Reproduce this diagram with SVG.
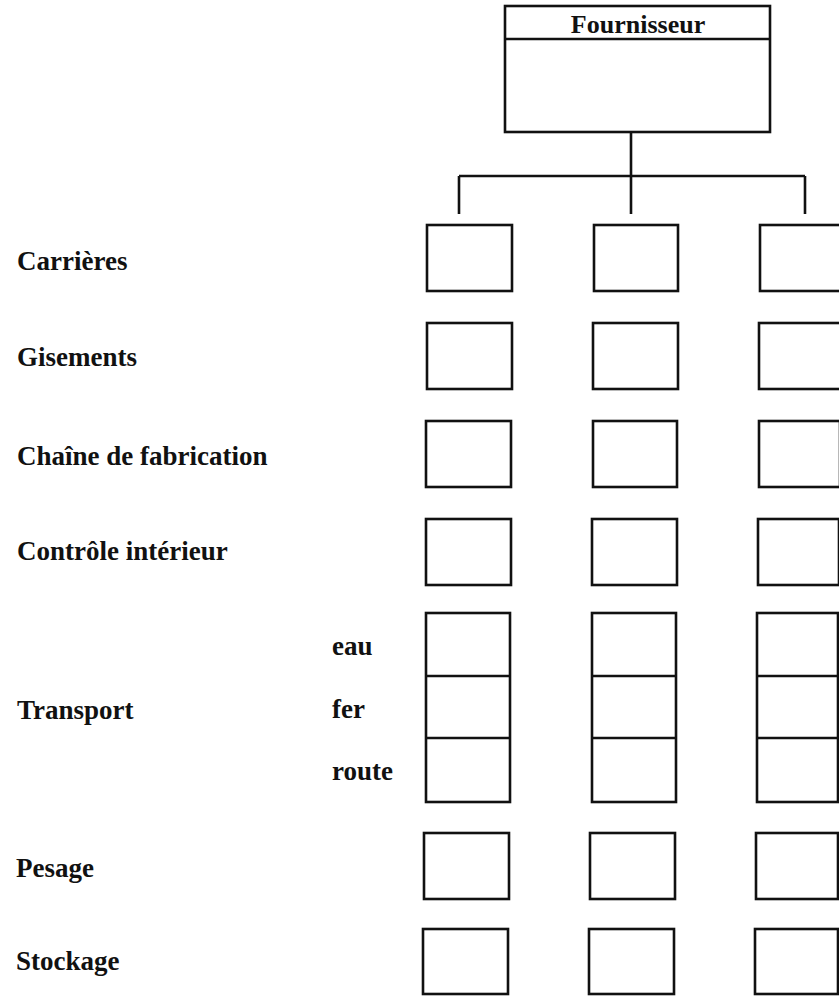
<svg xmlns="http://www.w3.org/2000/svg" width="839" height="996" viewBox="0 0 839 996">
<style>
.b{fill:#fff;stroke:#111;stroke-width:2.6}
.ln{fill:none;stroke:#111;stroke-width:2.6}
.t{font-family:"Liberation Serif","Times New Roman",serif;font-weight:bold;font-size:27px;fill:#111}
.h{font-family:"Liberation Serif","Times New Roman",serif;font-weight:bold;font-size:26px;fill:#111}
</style>
<rect width="839" height="996" fill="#fff"/>
<g id="connectors">
<path class="ln" d="M631,132 V214 M459,176 H805 M459,176 V214 M805,176 V214"/>
</g>
<g id="fournisseur">
<rect class="b" x="505" y="6" width="265" height="126"/>
<line class="ln" x1="505" y1="39" x2="770" y2="39"/>
<text class="h" x="638" y="33" text-anchor="middle">Fournisseur</text>
</g>
<g id="labels">
<text class="t" x="17" y="270">Carrières</text>
<text class="t" x="17" y="366">Gisements</text>
<text class="t" x="17" y="465">Chaîne de fabrication</text>
<text class="t" x="17" y="560">Contrôle intérieur</text>
<text class="t" x="17" y="719">Transport</text>
<text class="t" x="332" y="655">eau</text>
<text class="t" x="332" y="718">fer</text>
<text class="t" x="332" y="780">route</text>
<text class="t" x="16" y="877">Pesage</text>
<text class="t" x="16" y="970">Stockage</text>
</g>
<g id="row-carrieres">
<rect class="b" x="427" y="225" width="85" height="66"/>
<rect class="b" x="594" y="225" width="84" height="66"/>
<rect class="b" x="760" y="225" width="82" height="66"/>
</g>
<g id="row-gisements">
<rect class="b" x="427" y="323" width="85" height="66"/>
<rect class="b" x="593" y="323" width="85" height="66"/>
<rect class="b" x="759" y="323" width="82" height="66"/>
</g>
<g id="row-chaine">
<rect class="b" x="426" y="421" width="85" height="66"/>
<rect class="b" x="593" y="421" width="84" height="66"/>
<rect class="b" x="759" y="421" width="81" height="66"/>
</g>
<g id="row-controle">
<rect class="b" x="426" y="519" width="85" height="66"/>
<rect class="b" x="592" y="519" width="85" height="66"/>
<rect class="b" x="758" y="519" width="81" height="66"/>
</g>
<g id="row-transport">
<rect class="b" x="426" y="613" width="84" height="189"/>
<path class="ln" d="M426,676 H510 M426,738 H510"/>
<rect class="b" x="592" y="613" width="84" height="189"/>
<path class="ln" d="M592,676 H676 M592,738 H676"/>
<rect class="b" x="757" y="613" width="81" height="189"/>
<path class="ln" d="M757,676 H838 M757,738 H838"/>
</g>
<g id="row-pesage">
<rect class="b" x="424" y="833" width="85" height="66"/>
<rect class="b" x="590" y="833" width="85" height="66"/>
<rect class="b" x="756" y="833" width="82" height="66"/>
</g>
<g id="row-stockage">
<rect class="b" x="423" y="929" width="85" height="65"/>
<rect class="b" x="589" y="929" width="85" height="65"/>
<rect class="b" x="755" y="929" width="83" height="65"/>
</g>
</svg>
